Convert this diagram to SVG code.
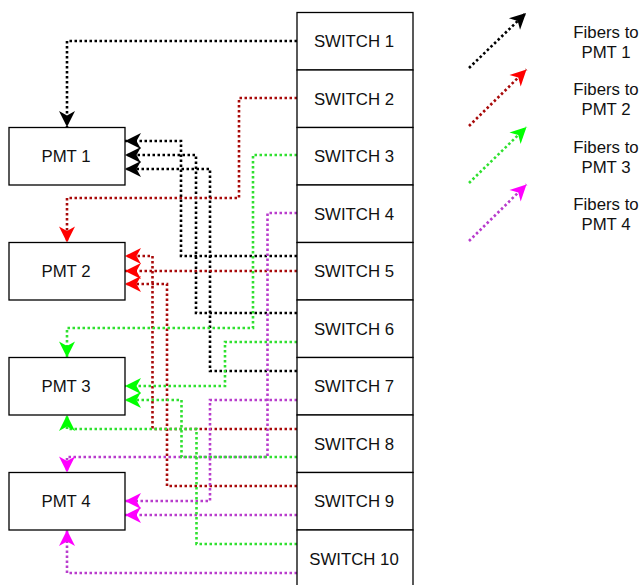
<svg xmlns="http://www.w3.org/2000/svg" width="641" height="585" viewBox="0 0 641 585">
<style>
.box{fill:#fff;stroke:#000;stroke-width:1.3}
.lbl{font-family:"Liberation Sans",Arial,sans-serif;font-size:16.8px;fill:#111;text-anchor:middle}
.c{fill:none;stroke-width:2.6;stroke-dasharray:2.5 2.5}
.k{stroke:#000}
.r{stroke:#a80a0a}
.g{stroke:#2fe02f}
.m{stroke:#b83ccc}
.k{marker-end:url(#ak)}
.r{marker-end:url(#ar)}
.g{marker-end:url(#ag)}
.m{marker-end:url(#am)}
</style>
<defs>
<marker id="ak" markerUnits="userSpaceOnUse" markerWidth="17" markerHeight="17" refX="16" refY="8" orient="auto" overflow="visible"><path d="M16,8 L0,0 L4.5,8 L0,16 Z" fill="#000"/></marker>
<marker id="ar" markerUnits="userSpaceOnUse" markerWidth="17" markerHeight="17" refX="16" refY="8" orient="auto" overflow="visible"><path d="M16,8 L0,0 L4.5,8 L0,16 Z" fill="#ff0000"/></marker>
<marker id="ag" markerUnits="userSpaceOnUse" markerWidth="17" markerHeight="17" refX="16" refY="8" orient="auto" overflow="visible"><path d="M16,8 L0,0 L4.5,8 L0,16 Z" fill="#00ff00"/></marker>
<marker id="am" markerUnits="userSpaceOnUse" markerWidth="17" markerHeight="17" refX="16" refY="8" orient="auto" overflow="visible"><path d="M16,8 L0,0 L4.5,8 L0,16 Z" fill="#ff00ff"/></marker>
</defs>
<rect width="641" height="585" fill="#fff"/>
<g id="connectors">
<path class="c k" d="M297,41 H67 V127"/>
<path class="c k" d="M297,256 H181 V141 H125"/>
<path class="c k" d="M297,313 H196 V155 H125"/>
<path class="c k" d="M297,371 H210 V169 H125"/>
<path class="c r" d="M297,98 H239 V198 H67 V242.5"/>
<path class="c r" d="M297,271 H125"/>
<path class="c r" d="M297,429 H152.5 V256 H125"/>
<path class="c r" d="M297,486 H167 V284 H125"/>
<path class="c g" d="M297,155 H253 V328 H67 V357.5"/>
<path class="c g" d="M297,342 H225 V386 H125"/>
<path class="c m" d="M297,213 H267.5 V457 H67 V472.5"/>
<path class="c g" d="M297,457 H181.5 V400 H125"/>
<path class="c m" d="M297,400 H210 V501 H125"/>
<path class="c m" d="M297,515 H125"/>
<path class="c g" d="M297,544 H196.5 V429 H67 V415"/>
<path class="c m" d="M297,573 H67 V530"/>
</g>
<g id="pmt1"><rect class="box" x="9" y="127.5" width="116" height="57.5"/><text class="lbl" x="66" y="162.3">PMT 1</text></g>
<g id="pmt2"><rect class="box" x="9" y="242.5" width="116" height="57.5"/><text class="lbl" x="66" y="277.3">PMT 2</text></g>
<g id="pmt3"><rect class="box" x="9" y="357.5" width="116" height="57.5"/><text class="lbl" x="66" y="392.3">PMT 3</text></g>
<g id="pmt4"><rect class="box" x="9" y="472.5" width="116" height="57.5"/><text class="lbl" x="66" y="507.3">PMT 4</text></g>
<g id="switch1"><rect class="box" x="297" y="12.5" width="116" height="57.5"/><text class="lbl" x="354" y="47.3">SWITCH 1</text></g>
<g id="switch2"><rect class="box" x="297" y="70" width="116" height="57.5"/><text class="lbl" x="354" y="104.8">SWITCH 2</text></g>
<g id="switch3"><rect class="box" x="297" y="127.5" width="116" height="57.5"/><text class="lbl" x="354" y="162.3">SWITCH 3</text></g>
<g id="switch4"><rect class="box" x="297" y="185" width="116" height="57.5"/><text class="lbl" x="354" y="219.8">SWITCH 4</text></g>
<g id="switch5"><rect class="box" x="297" y="242.5" width="116" height="57.5"/><text class="lbl" x="354" y="277.3">SWITCH 5</text></g>
<g id="switch6"><rect class="box" x="297" y="300" width="116" height="57.5"/><text class="lbl" x="354" y="334.8">SWITCH 6</text></g>
<g id="switch7"><rect class="box" x="297" y="357.5" width="116" height="57.5"/><text class="lbl" x="354" y="392.3">SWITCH 7</text></g>
<g id="switch8"><rect class="box" x="297" y="415" width="116" height="57.5"/><text class="lbl" x="354" y="449.8">SWITCH 8</text></g>
<g id="switch9"><rect class="box" x="297" y="472.5" width="116" height="57.5"/><text class="lbl" x="354" y="507.3">SWITCH 9</text></g>
<g id="switch10"><rect class="box" x="297" y="530" width="116" height="57.5"/><text class="lbl" x="354" y="564.8">SWITCH 10</text></g>
<g id="legend">
<path class="c k" d="M469,68 L526,13"/>
<path class="c r" d="M469,126 L526.5,69.5"/>
<path class="c g" d="M469,183 L526.5,127"/>
<path class="c m" d="M469,241 L526.5,184.5"/>
<text class="lbl" x="606" y="37.5">Fibers to</text><text class="lbl" x="606" y="57.5">PMT 1</text>
<text class="lbl" x="606" y="95">Fibers to</text><text class="lbl" x="606" y="115">PMT 2</text>
<text class="lbl" x="606" y="152.5">Fibers to</text><text class="lbl" x="606" y="172.5">PMT 3</text>
<text class="lbl" x="606" y="210">Fibers to</text><text class="lbl" x="606" y="230">PMT 4</text>
</g>
</svg>
